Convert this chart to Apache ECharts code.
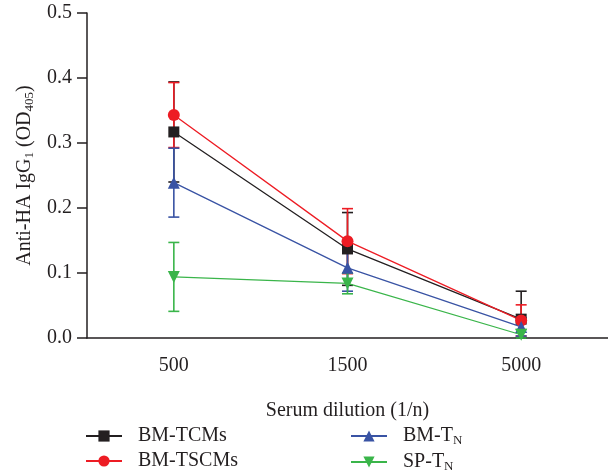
<!DOCTYPE html>
<html>
<head>
<meta charset="utf-8">
<script src="https://cdn.jsdelivr.net/npm/echarts@6/dist/echarts.min.js"></script>
<style>
html,body{margin:0;padding:0;background:#fff;}
#main{width:608px;height:475px;}
</style>
</head>
<body>
<div id="main"></div>
<script>
// dilution categories
var categories = ['500', '1500', '5000'];

// mean and SD per group
var tcmMean = [0.317, 0.137, 0.029];
var tcmSd = [0.077, 0.056, 0.043];
var tscmMean = [0.343, 0.149, 0.027];
var tscmSd = [0.050, 0.050, 0.024];
var tnMean = [0.239, 0.108, 0.017];
var tnSd = [0.053, 0.036, 0.014];
var spMean = [0.094, 0.084, 0.005];
var spSd = [0.053, 0.016, 0.008];

var FONT = 'Liberation Serif';
var FS = 20;
var INK = '#231f20';

function errData(mean, sd){
    var out = [];
    for (var i = 0; i < mean.length; i++) out.push([i, mean[i], sd[i]]);
    return out;
}

function errBar(color){
    return function(params, api){
        var x = api.value(0), m = api.value(1), s = api.value(2);
        var hi = api.coord([x, m + s]);
        var lo = api.coord([x, Math.max(0, m - s)]);
        var w = 5.5;
        var st = {stroke: color, lineWidth: 1.6};
        return {
            type: 'group',
            children: [
                {type: 'line', shape: {x1: hi[0], y1: hi[1], x2: lo[0], y2: lo[1]}, style: st},
                {type: 'line', shape: {x1: hi[0] - w, y1: hi[1], x2: hi[0] + w, y2: hi[1]}, style: st},
                {type: 'line', shape: {x1: lo[0] - w, y1: lo[1], x2: lo[0] + w, y2: lo[1]}, style: st}
            ]
        };
    };
}

var groups = [
    {name: 'BM-TCMs', mean: tcmMean, sd: tcmSd, color: INK, symbol: 'rect', size: 11},
    {name: 'BM-TSCMs', mean: tscmMean, sd: tscmSd, color: '#ed1c24', symbol: 'circle', size: 12},
    {name: 'BM-TN', mean: tnMean, sd: tnSd, color: '#3953a4', symbol: 'triangle', size: 12},
    {name: 'SP-TN', mean: spMean, sd: spSd, color: '#3ab54a', symbol: 'path://M0,0 L10,0 L5,9 Z', size: 12}
];

var series = [];
groups.forEach(function(g){
    series.push({
        name: g.name + '-err',
        type: 'custom',
        renderItem: errBar(g.color),
        data: errData(g.mean, g.sd),
        z: 2
    });
});
groups.forEach(function(g){
    series.push({
        name: g.name,
        type: 'line',
        data: g.mean,
        symbol: g.symbol,
        symbolSize: g.size,
        showAllSymbol: true,
        itemStyle: {color: g.color},
        lineStyle: {color: g.color, width: 1.3},
        z: 3
    });
});

var richSub = {
    n: {fontFamily: FONT, fontSize: FS, color: INK, lineHeight: 22},
    s: {fontFamily: FONT, fontSize: 13, color: INK, lineHeight: 13, verticalAlign: 'bottom'}
};
var legendText = {fontFamily: FONT, fontSize: FS, color: INK, padding: [0, 0, 0, 11], rich: richSub};
function legendFmt(name){
    if (name === 'BM-TN') return '{n|BM-T}{s|N}';
    if (name === 'SP-TN') return '{n|SP-T}{s|N}';
    return '{n|' + name + '}';
}

var chart = echarts.init(document.getElementById('main'));
var option = {
    backgroundColor: '#fff',
    animation: false,
    grid: {left: 87, right: 0, top: 13, bottom: 137},
    legend: [
        {
            left: 85, top: 426, orient: 'vertical', itemGap: 5, padding: 0,
            itemWidth: 36, itemHeight: 14,
            data: ['BM-TCMs', 'BM-TSCMs'],
            formatter: legendFmt, textStyle: legendText
        },
        {
            left: 350, top: 426, orient: 'vertical', itemGap: 5, padding: 0,
            itemWidth: 36, itemHeight: 14,
            data: ['BM-TN', 'SP-TN'],
            formatter: legendFmt, textStyle: legendText
        }
    ],
    xAxis: {
        type: 'category',
        data: categories,
        name: 'Serum dilution (1/n)',
        nameLocation: 'middle',
        nameGap: 63,
        nameTextStyle: {fontFamily: FONT, fontSize: FS, color: INK},
        axisLine: {lineStyle: {color: INK, width: 1.5}},
        axisTick: {alignWithLabel: true, length: 10, lineStyle: {color: INK, width: 1.5}},
        axisLabel: {fontFamily: FONT, fontSize: FS, color: INK, margin: 18}
    },
    yAxis: {
        type: 'value',
        min: 0, max: 0.5, interval: 0.1,
        name: '{n|Anti-HA IgG}{s|1}{n| (OD}{s|405}{n|)}',
        nameLocation: 'middle',
        nameGap: 44,
        nameTextStyle: {rich: richSub},
        axisLine: {show: true, lineStyle: {color: INK, width: 1.5}},
        axisTick: {show: true, length: 10, lineStyle: {color: INK, width: 1.5}},
        splitLine: {show: false},
        axisLabel: {
            fontFamily: FONT, fontSize: FS, color: INK, margin: 15,
            formatter: function(v){ return v.toFixed(1); }
        }
    },
    series: series
};
chart.setOption(option);
</script>
</body>
</html>
